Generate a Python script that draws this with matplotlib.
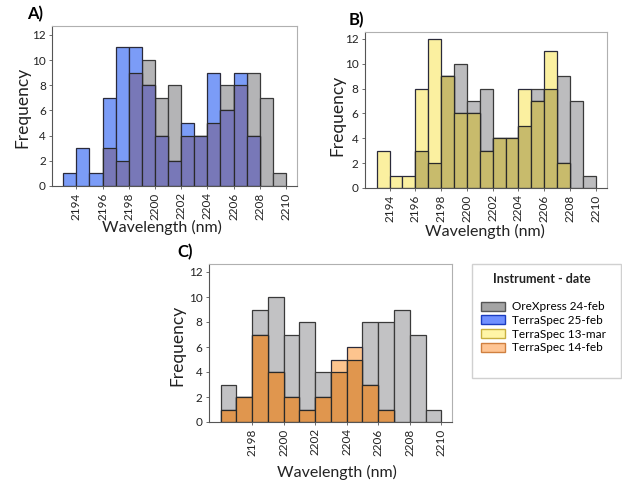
import numpy as np
import matplotlib
matplotlib.use("Agg")
import matplotlib.pyplot as plt
import matplotlib.patches as mpatches

plt.rcParams['font.family'] = ['Lato', 'DejaVu Sans']

# bin left edges (nm), 1 nm bins
wl = np.arange(2193, 2210)
# frequencies
orexpress_24feb = [0, 0, 0, 3, 2, 9, 10, 7, 8, 4, 4, 5, 8, 8, 9, 7, 1]
terraspec_25feb = [1, 3, 1, 7, 11, 11, 8, 4, 2, 5, 4, 9, 6, 9, 4, 0, 0]
terraspec_13mar = [3, 1, 1, 8, 12, 9, 6, 6, 3, 4, 4, 8, 7, 11, 2, 0, 0]
terraspec_14feb = [0, 0, 0, 1, 2, 7, 4, 2, 1, 2, 5, 6, 3, 1, 0, 0, 0]

ticks_ab = [2194, 2196, 2198, 2200, 2202, 2204, 2206, 2208, 2210]
ticks_c = [2198, 2200, 2202, 2204, 2206, 2208, 2210]
yticks = [0, 2, 4, 6, 8, 10, 12]

legend_names = ["OreXpress 24-feb", "TerraSpec 25-feb", "TerraSpec 13-mar", "TerraSpec 14-feb"]

W, H = 622, 487
fig = plt.figure(figsize=(W / 100, H / 100), dpi=100)


def px_axes(l, t, r, b):
    return fig.add_axes([l / W, 1 - b / H, (r - l) / W, (b - t) / H])


def bars(ax, vals, color, edge):
    vals = np.asarray(vals)
    m = vals > 0
    ax.bar(wl[m], vals[m], width=1, align='edge', color=color,
           edgecolor=edge, linewidth=0.9)


def panel(ax, other, grey, col, over, xlim, ylim, xticks):
    bars(ax, orexpress_24feb, grey, '#3a3a3a')
    bars(ax, other, col, '#2a2a3a')
    bars(ax, np.minimum(orexpress_24feb, other), over, '#2a2a2a')
    ax.set_xlim(*xlim)
    ax.set_ylim(0, ylim)
    ax.set_xticks(xticks)
    ax.set_xticklabels([str(t) for t in xticks], rotation=90)
    ax.set_yticks(yticks)
    ax.tick_params(axis='both', labelsize=8.5, length=2.5, width=0.6,
                   color='#555555', pad=2, labelcolor='#222222')
    for s in ['top', 'right']:
        ax.spines[s].set_color('#b0b0b0')
        ax.spines[s].set_linewidth(0.8)
    for s in ['left', 'bottom']:
        ax.spines[s].set_color('#555555')
        ax.spines[s].set_linewidth(0.8)


axA = px_axes(52, 26, 297, 186)
panel(axA, terraspec_25feb, '#b4b4b6', '#7b9cf7', '#7878b8',
      (2192.14, 2210.84), 12.7, ticks_ab)
axB = px_axes(365, 32, 607, 188)
panel(axB, terraspec_13mar, '#bcbcbe', '#fbf0a0', '#c8bb6c',
      (2192.09, 2210.88), 12.56, ticks_ab)
axC = px_axes(209, 264, 452, 422)
panel(axC, terraspec_14feb, '#c2c2c4', '#fdc48e', '#e0964e',
      (2195.26, 2210.68), 12.64, ticks_c)


def ftext(x, y, s, **kw):
    fig.text(x / W, 1 - y / H, s, **kw)


ftext(27, 14, "A)", fontsize=12, fontweight='bold', va='center', ha='left')
ftext(349, 20, "B)", fontsize=12, fontweight='bold', va='center', ha='left')
ftext(177, 252, "C)", fontsize=12, fontweight='bold', va='center', ha='left')

for x, y in [(22, 107), (337, 115), (177, 345)]:
    ftext(x, y, "Frequency", fontsize=12.5, rotation=90, va='center', ha='center',
          color='#222222')
for x, y in [(162, 227), (485, 231), (337, 472)]:
    ftext(x, y, "Wavelength (nm)", fontsize=11.5, va='center', ha='center',
          color='#222222')

# legend box
fig.add_artist(mpatches.Rectangle((472 / W, 1 - 378 / H), 149 / W, 114 / H,
                                  transform=fig.transFigure, facecolor='white',
                                  edgecolor='#d0d0d0', linewidth=1))
ftext(542, 279, "Instrument - date", fontsize=9, fontweight='bold',
      va='center', ha='center', color='#222222')
handles = [
    mpatches.Patch(facecolor='#a4a4a4', edgecolor='#555555'),
    mpatches.Patch(facecolor='#7090ff', edgecolor='#1a3cc0'),
    mpatches.Patch(facecolor='#fff5a6', edgecolor='#c8b040'),
    mpatches.Patch(facecolor='#ffc594', edgecolor='#d08040'),
]
leg = fig.legend(handles, legend_names, loc='upper left',
                 bbox_to_anchor=(472 / W, 1 - 292 / H), frameon=False,
                 fontsize=8.5, handlelength=2.0, handleheight=0.8,
                 labelspacing=0.22, handletextpad=0.6, borderpad=0.3)

fig.savefig("out.png", dpi=100)
